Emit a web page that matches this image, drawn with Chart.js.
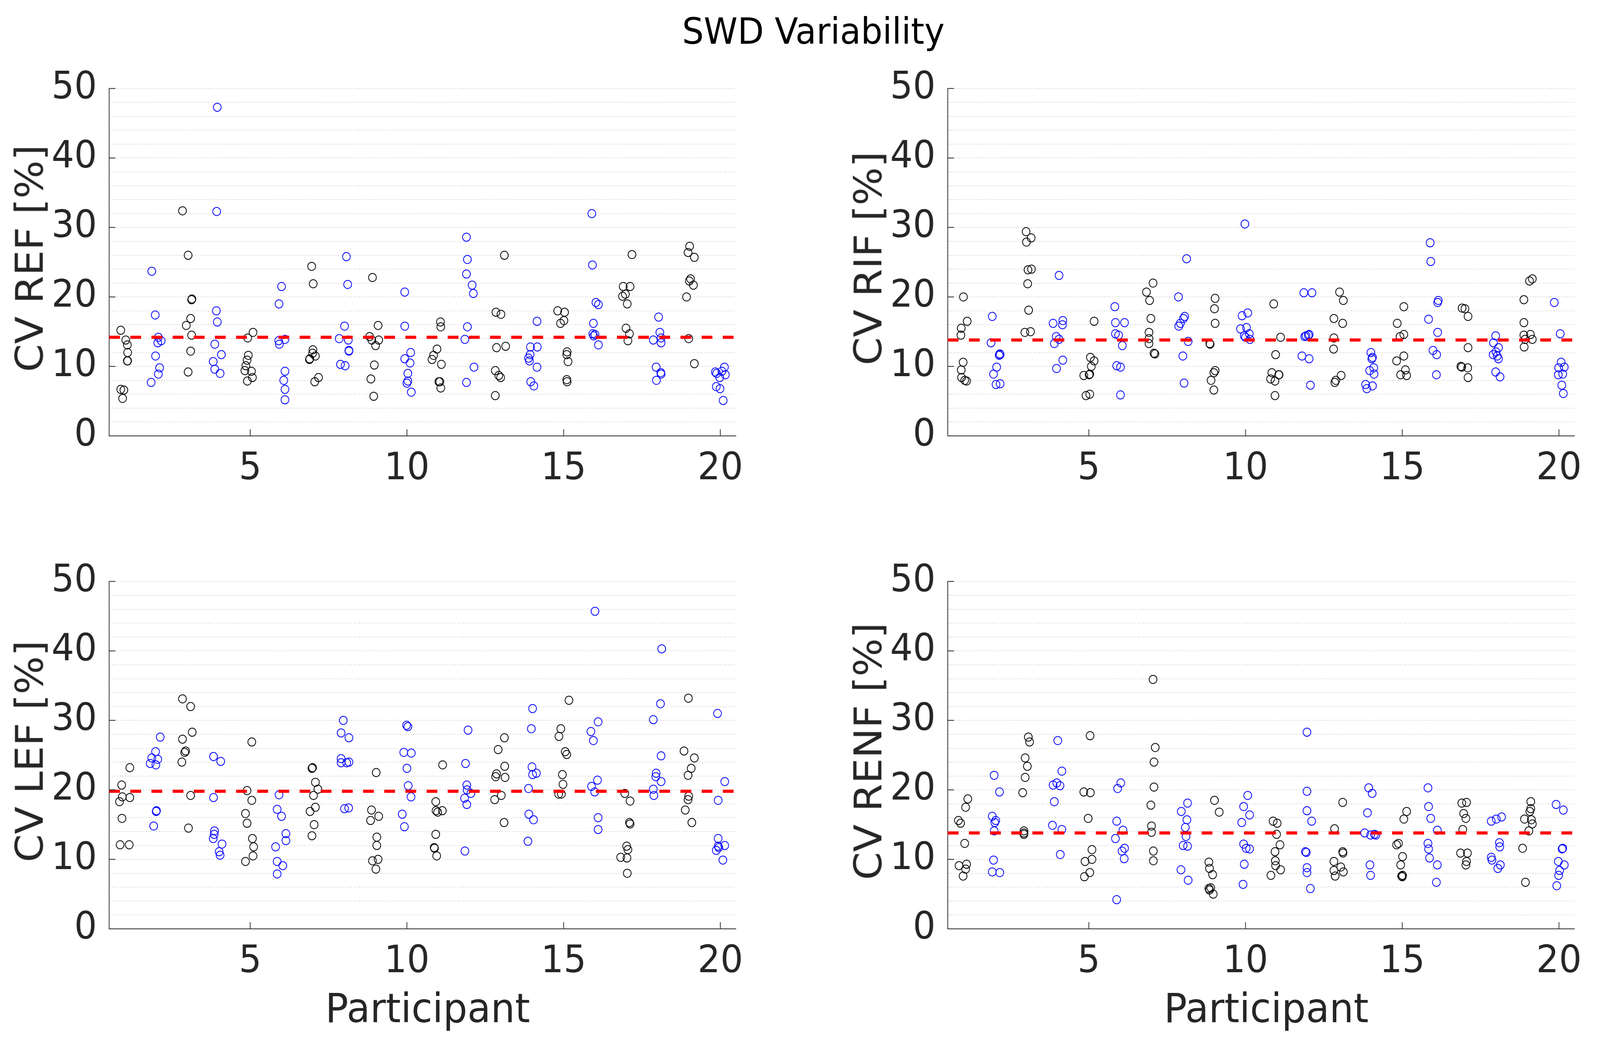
<!DOCTYPE html>
<html>
<head>
<meta charset="utf-8">
<script src="https://cdn.jsdelivr.net/npm/chart.js@4.4.1/dist/chart.umd.min.js"></script>
<style>
  html, body { margin: 0; padding: 0; background: #fff; overflow: hidden; }
  #stage { position: absolute; left: 0; top: 0; width: 4310px; height: 2660px; transform-origin: 0 0; font-family: 'DejaVu Sans', sans-serif; }
  canvas { position: absolute; }
  .txt { position: absolute; white-space: nowrap; line-height: 1; text-align: center; }
</style>
</head>
<body>
<div id="stage">
  <div id="title" class="txt">SWD Variability</div>
</div>

<script>
// tick labels / axis text
const xTicks = [5, 10, 15, 20];
const yTicks = [0, 10, 20, 30, 40, 50];
const yTitles = ['CV REF [%]', 'CV RIF [%]', 'CV LEF [%]', 'CV RENF [%]'];
const xTitle = 'Participant';

// red dashed reference line per panel
const meanCV = [14.2, 13.8, 19.8, 13.8];

// CV values per participant (1..20) and the horizontal jitter of each point
const refVals = [
  [15.2,13.8,13.1,12.0,10.8,10.8,6.7,6.6,5.4],
  [23.7,17.4,14.2,13.4,13.7,11.5,9.8,8.9,7.7],
  [32.4,26.0,19.6,19.7,16.9,15.9,14.5,12.2,9.2],
  [47.3,32.3,18.0,16.4,13.2,11.7,10.7,9.6,9.0],
  [14.9,14.1,11.6,10.9,10.1,9.4,9.3,8.4,7.9],
  [21.5,19.0,13.9,13.7,13.2,9.3,8.0,6.7,5.2],
  [24.4,21.9,12.4,11.9,11.5,11.1,11.0,8.4,7.8],
  [25.8,21.8,15.8,14.0,13.8,12.3,12.2,10.3,10.1],
  [22.8,15.9,14.3,13.8,13.8,13.0,10.2,8.2,5.7],
  [20.7,15.8,12.0,11.1,10.5,9.0,7.9,7.6,6.3],
  [16.4,15.7,12.5,11.6,11.0,10.3,7.8,7.8,6.9],
  [28.6,25.4,23.3,21.7,20.5,15.7,13.9,9.9,7.7],
  [26.0,17.8,17.5,12.9,12.7,9.4,8.7,8.4,5.8],
  [16.5,12.8,12.8,11.7,11.2,10.8,9.9,7.8,7.2],
  [18.0,17.8,16.6,16.2,12.1,11.7,10.7,8.1,7.8],
  [32.0,24.6,19.2,18.9,16.2,14.7,14.6,14.4,13.1],
  [26.1,21.5,21.5,20.4,20.1,19.0,15.5,14.7,13.7],
  [17.1,14.9,14.1,13.8,13.4,9.9,9.1,8.9,8.0],
  [27.3,26.4,25.7,22.6,22.3,21.7,20.0,14.0,10.4],
  [9.9,9.3,9.2,9.0,8.8,8.4,7.1,6.8,5.1]
];
const refJit = [
  [-.13,.03,.08,.09,.08,.09,-.13,-.03,-.07],
  [-.14,-.03,.07,.05,.16,-.02,.11,.07,-.16],
  [-.16,.02,.13,.14,.10,-.04,.13,.10,.02],
  [-.05,-.07,-.08,-.05,-.13,.08,-.18,-.13,.04],
  [.09,-.08,-.06,-.10,-.14,-.17,.04,.07,-.09],
  [.00,-.08,.11,-.09,-.07,.11,.07,.11,.11],
  [-.04,.01,.00,-.01,.08,-.10,-.11,.18,.06],
  [.07,.11,.01,-.16,.13,.15,.15,-.12,.03],
  [-.10,.08,-.19,-.12,.10,.00,-.04,-.15,-.06],
  [-.07,-.07,.12,-.07,.10,.03,.03,.00,.14],
  [.07,.08,-.04,-.15,-.20,.10,.02,.05,.08],
  [-.10,-.07,-.10,.08,.12,-.07,-.15,.14,-.10],
  [.11,-.16,.00,.15,-.14,-.18,-.07,-.01,-.18],
  [.15,-.06,.16,-.07,-.12,-.09,.15,-.05,.05],
  [-.19,.03,.01,-.10,.11,.10,.14,.10,.11],
  [-.10,-.08,.03,.11,-.05,-.07,.00,-.04,.11],
  [.18,-.10,.12,-.03,-.12,.03,-.01,.10,.05],
  [.03,.07,.11,-.14,.11,-.05,.10,.11,-.04],
  [.02,-.03,.17,.05,.01,.14,-.08,-.01,.17],
  [.13,.05,-.16,-.12,.16,-.02,-.13,-.01,.09]
];

const rifVals = [
  [20.0,16.5,15.5,14.5,10.6,9.5,8.4,8.0,7.9],
  [17.2,13.4,11.8,11.6,11.7,9.9,8.9,7.4,7.5],
  [29.4,28.5,27.9,23.9,24.0,21.9,18.1,14.9,15.0],
  [23.1,16.2,16.6,16.0,14.3,13.9,13.3,10.9,9.7],
  [16.5,11.3,10.8,10.0,8.9,8.7,8.8,5.8,6.0],
  [18.6,16.3,16.3,14.7,14.5,13.0,10.1,9.9,5.9],
  [22.0,20.7,19.5,16.9,14.9,14.0,13.3,11.9,11.8],
  [25.5,20.0,17.2,16.9,16.2,15.8,13.6,11.5,7.6],
  [19.8,18.3,16.2,13.3,13.2,9.4,9.1,8.0,6.6],
  [30.5,17.3,17.7,15.4,15.6,14.7,14.4,14.2,13.9],
  [19.0,14.2,11.7,9.1,8.8,8.8,8.2,7.9,5.8],
  [20.6,20.6,14.6,14.5,14.4,14.3,11.5,11.1,7.3],
  [20.7,19.5,16.9,16.2,14.1,12.5,8.7,8.0,7.7],
  [12.0,11.3,11.1,9.8,9.4,8.9,7.4,7.2,6.8],
  [18.6,16.2,14.6,14.3,11.5,10.8,9.5,8.8,8.7],
  [27.8,25.1,19.5,19.2,16.8,14.9,12.3,11.7,8.8],
  [18.4,18.3,17.2,12.7,10.0,9.9,9.8,8.4],
  [14.4,13.4,12.7,12.1,11.7,11.5,11.1,9.2,8.5],
  [22.6,22.3,19.6,16.3,14.5,14.6,13.9,13.9,12.8],
  [19.2,14.7,10.6,9.9,9.8,8.9,8.8,7.3,6.1]
];
const rifJit = [
  [.00,.12,-.07,-.08,-.01,-.07,-.06,.04,.10],
  [-.08,-.12,.16,.14,.17,.06,-.04,.04,.17],
  [.00,.16,.01,.06,.17,.05,.08,-.04,.14],
  [.05,-.14,.17,.16,-.04,.05,-.10,.17,-.03],
  [.17,.05,.17,.08,.03,-.16,.01,-.09,.03],
  [-.17,-.15,.14,-.15,-.05,.07,-.11,.01,.01],
  [.05,-.16,-.06,-.02,-.08,-.08,-.08,.08,.11],
  [.12,-.14,.06,.02,-.08,-.13,.17,.00,.04],
  [.03,.01,.03,-.14,-.13,.03,-.01,-.10,-.01],
  [-.02,-.11,.07,-.16,.03,.12,-.04,.00,.14],
  [-.10,.12,-.04,-.16,.06,.07,-.20,-.06,-.06],
  [-.14,.12,.03,.00,-.07,-.11,-.20,.03,.07],
  [.00,.12,-.18,.10,-.18,-.19,.05,-.12,-.15],
  [.00,.05,.03,.09,-.04,.10,-.17,.05,-.13],
  [.05,-.16,.05,-.07,.05,-.18,.10,-.05,.14],
  [-.11,-.09,.15,.13,-.16,.13,-.02,.10,.09],
  [-.09,.00,.10,.10,-.13,-.10,.09,.10],
  [-.02,-.09,.07,-.01,-.10,.03,.07,-.02,.12],
  [.15,.06,-.12,-.12,-.12,.09,-.08,.15,-.11],
  [-.15,.04,.07,.17,-.01,.12,-.02,.09,.14]
];

const lefVals = [
  [23.2,20.7,19.0,18.9,18.3,15.9,12.1,12.1],
  [27.6,25.5,24.6,24.4,23.8,23.6,17.0,16.9,14.8],
  [33.1,32.0,28.3,27.3,25.6,25.4,24.0,19.2,14.5],
  [24.8,24.1,18.9,14.1,13.6,13.0,12.2,11.1,10.6],
  [26.9,19.9,18.5,16.6,15.2,13.0,11.8,10.5,9.7],
  [19.3,17.2,16.2,13.7,12.7,11.8,9.7,9.1,7.9],
  [23.1,23.2,21.1,20.1,19.2,17.5,16.9,15.0,13.4],
  [30.0,28.2,27.5,24.5,23.9,23.9,24.0,17.3,17.4],
  [22.5,17.1,15.6,16.2,13.2,12.0,9.8,10.0,8.6],
  [29.3,29.1,25.4,25.3,23.1,20.6,19.0,16.5,14.7],
  [23.6,18.3,17.0,16.8,17.0,13.6,11.7,11.6,10.5],
  [28.6,23.8,20.7,20.0,19.5,18.8,17.9,11.2],
  [27.5,25.8,23.4,22.3,21.9,21.8,19.2,18.6,15.3],
  [31.7,28.8,23.3,22.2,22.4,20.2,16.5,15.7,12.6],
  [32.9,28.8,27.7,25.5,25.1,22.2,20.8,19.4,19.4],
  [45.7,29.8,28.4,27.1,21.4,20.5,19.7,16.0,14.3],
  [19.5,18.4,15.3,15.1,11.9,11.4,10.3,10.2,8.0],
  [40.3,32.4,30.1,24.9,22.4,21.9,21.2,20.1,19.2],
  [33.2,25.6,24.6,23.1,22.1,19.1,18.6,17.1,15.3],
  [31.0,21.2,18.5,13.0,11.9,12.0,11.7,11.3,9.9]
];
const lefJit = [
  [.16,-.10,-.08,.16,-.17,-.09,-.15,.14],
  [.13,-.02,-.14,.05,-.19,-.01,.01,.00,-.08],
  [-.16,.10,.15,-.16,-.06,-.09,-.18,.10,.03],
  [-.17,.06,-.17,-.14,-.15,-.18,.10,.01,.04],
  [.05,-.10,.05,-.15,-.10,.07,.11,.09,-.15],
  [-.08,-.14,.00,.14,.14,-.19,-.14,.04,-.14],
  [-.03,-.01,.08,.16,.02,.08,-.09,.04,-.03],
  [-.03,-.10,.15,-.10,-.10,.08,.15,.01,.14],
  [.02,-.13,-.16,.10,.04,.04,-.10,.08,.01],
  [-.01,.03,-.10,.14,.00,.04,.13,-.15,-.08],
  [.14,-.08,-.07,-.02,.13,-.08,-.13,-.12,-.05],
  [-.05,-.13,-.09,-.08,.04,-.16,-.09,-.15],
  [.11,-.09,.12,-.14,-.17,.13,.01,-.20,.10],
  [.01,-.03,-.01,.01,.13,-.12,-.11,.04,-.14],
  [.17,-.09,-.15,.05,.10,-.04,-.02,-.16,-.07],
  [.00,.10,-.13,-.05,.08,-.11,-.01,.10,.10],
  [-.05,.12,.10,.12,.01,.05,-.18,.02,.03],
  [.13,.09,-.14,.11,-.05,-.06,.11,-.14,-.12],
  [-.02,-.16,.17,.07,-.03,-.01,-.03,-.12,.09],
  [-.09,.14,-.07,-.07,-.07,.14,-.05,-.13,.08]
];

const renfVals = [
  [18.7,17.5,15.6,15.2,12.3,9.1,9.3,8.6,7.6],
  [22.1,19.7,16.2,15.6,15.3,14.1,9.9,8.2,8.1],
  [27.6,26.9,24.6,23.4,21.8,19.6,14.1,13.8,13.6],
  [27.1,22.7,21.0,20.7,20.6,18.3,14.9,14.3,10.7],
  [27.8,19.7,19.6,15.9,11.4,9.7,10.0,8.1,7.5],
  [21.0,20.2,15.5,14.2,13.0,11.6,11.2,10.1,4.2],
  [35.9,26.1,24.0,20.4,17.8,14.8,13.9,11.2,9.8],
  [18.1,16.9,15.7,14.6,13.3,12.0,11.9,8.5,7.0],
  [18.5,16.8,9.6,8.7,7.8,5.8,5.9,5.6,5.0],
  [19.2,17.6,16.4,15.3,12.2,11.6,11.5,9.3,6.4],
  [15.5,15.2,13.6,12.1,11.1,9.8,9.1,8.5,7.7],
  [28.3,19.8,17.0,15.5,11.1,11.0,8.8,8.1,5.8],
  [18.2,14.4,11.1,10.9,9.7,8.9,8.4,8.2,7.6],
  [20.3,19.5,16.7,13.8,13.5,13.6,13.5,9.2,7.7],
  [16.9,15.8,12.3,12.1,10.4,9.2,7.6,7.5,7.7],
  [20.3,17.6,15.9,14.2,12.3,11.5,10.2,9.2,6.7],
  [18.1,18.2,16.6,15.9,14.3,10.9,10.9,9.7,9.2],
  [15.5,15.8,16.1,12.4,11.8,10.3,9.9,9.2,8.7],
  [18.3,17.3,16.9,15.8,15.7,15.1,14.1,11.6,6.7],
  [17.9,17.1,11.6,11.5,9.7,9.2,8.4,7.7,6.2]
];
const renfJit = [
  [.14,.07,-.16,-.09,.04,-.14,.10,.07,-.01],
  [-.02,.15,-.08,.03,.00,-.02,-.04,-.08,.16],
  [.07,.11,-.03,.04,-.03,-.11,-.07,-.07,-.07],
  [.01,.14,-.02,-.14,.08,-.10,-.16,.14,.09],
  [.04,-.16,.05,-.02,.10,-.12,.10,.03,-.14],
  [.02,-.08,-.11,.09,-.15,.14,.06,.13,-.11],
  [.05,.12,.08,.08,-.02,.00,.00,.06,.06],
  [.15,-.05,.13,.08,.10,.01,.15,-.06,.17],
  [.01,.16,-.17,-.15,-.05,-.17,-.11,-.15,-.03],
  [.07,-.06,.13,-.12,-.06,.02,.13,-.04,-.08],
  [-.12,.01,-.01,.10,-.06,-.05,-.04,.12,-.19],
  [-.04,-.04,-.04,.11,-.09,-.06,-.04,-.04,.07],
  [.10,-.16,.10,.11,-.18,.04,-.18,.12,-.14],
  [-.07,.04,-.11,-.20,-.01,.11,.16,-.03,-.01],
  [.14,.05,-.12,-.18,.01,-.05,-.02,.00,.01],
  [-.18,-.16,-.09,.12,-.18,-.16,-.13,.12,.09],
  [-.10,.05,-.04,.03,-.07,-.14,.08,.05,.03],
  [-.16,.00,.17,.10,.11,-.16,-.14,.13,.05],
  [.10,.10,.07,-.10,.12,.15,.04,-.16,-.07],
  [-.09,.14,.12,.10,-.02,.17,.02,-.01,-.07]
];

const panelVals = [refVals, rifVals, lefVals, renfVals];
const panelJit = [refJit, rifJit, lefJit, renfJit];

// layout (pixels, in the 4310 x 2660 figure)
const FIG_W = 4310, FIG_H = 2660;
const PANEL_POS = [
  { left: 294, top: 206 }, { left: 2553, top: 206 },
  { left: 294, top: 1468 }, { left: 2553, top: 1468 }
];
const PLOT_W = 1716, PLOT_H = 910;
const Y_AXIS_W = 260, PAD_TOP = 70, PAD_RIGHT = 20, X_AXIS_H = 170;
const AXIS_COLOR = '#262626';
const FONT = 'DejaVu Sans';
const TICK_FONT = 96, LABEL_FONT = 103, TITLE_FONT = 92;

Chart.defaults.font.family = FONT;

// the window may be smaller than the figure: stretch the figure to fill it
const stage = document.getElementById('stage');
const sx = window.innerWidth / FIG_W, sy = window.innerHeight / FIG_H;
if (Math.abs(sx - 1) > 0.002 || Math.abs(sy - 1) > 0.002) {
  stage.style.transform = 'scale(' + sx + ',' + sy + ')';
}

const inwardTicks = {
  id: 'inwardTicks',
  afterDraw(chart) {
    const { ctx, chartArea: a, scales: { x, y } } = chart;
    ctx.save();
    ctx.strokeStyle = AXIS_COLOR;
    ctx.lineWidth = 2;
    ctx.beginPath();
    yTicks.forEach(v => {
      const py = y.getPixelForValue(v);
      ctx.moveTo(a.left, py);
      ctx.lineTo(a.left + 17, py);
    });
    xTicks.forEach(v => {
      const px = x.getPixelForValue(v);
      ctx.moveTo(px, a.bottom);
      ctx.lineTo(px, a.bottom - 17);
    });
    ctx.stroke();
    ctx.restore();
  }
};

function toPoints(vals, jit, odd) {
  const pts = [];
  vals.forEach((row, i) => {
    const p = i + 1;
    if ((p % 2 === 1) !== odd) return;
    row.forEach((v, k) => pts.push({ x: p + jit[i][k], y: v }));
  });
  return pts;
}

function addText(text, style) {
  const d = document.createElement('div');
  d.className = 'txt';
  d.textContent = text;
  Object.assign(d.style, style);
  stage.appendChild(d);
  return d;
}

function buildPanel(idx) {
  const pos = PANEL_POS[idx];
  const cv = document.createElement('canvas');
  const w = Y_AXIS_W + PLOT_W + PAD_RIGHT;
  const h = PAD_TOP + PLOT_H + X_AXIS_H;
  cv.style.left = (pos.left - Y_AXIS_W) + 'px';
  cv.style.top = (pos.top - PAD_TOP) + 'px';
  cv.style.width = w + 'px';
  cv.style.height = h + 'px';
  cv.width = w;
  cv.height = h;
  stage.appendChild(cv);

  const vals = panelVals[idx], jit = panelJit[idx];
  const circle = color => ({
    pointStyle: 'circle',
    pointRadius: 10.5,
    pointBorderWidth: 2,
    pointBorderColor: color,
    pointBackgroundColor: 'rgba(0,0,0,0)',
    borderColor: color,
    showLine: false
  });

  new Chart(cv, {
    type: 'scatter',
    plugins: [inwardTicks],
    data: {
      datasets: [
        {
          type: 'line',
          data: [{ x: 0.5, y: meanCV[idx] }, { x: 20.5, y: meanCV[idx] }],
          borderColor: '#ff0000',
          borderWidth: 8,
          borderDash: [29, 28],
          pointRadius: 0,
          fill: false
        },
        Object.assign({ data: toPoints(vals, jit, true) }, circle('#000000')),
        Object.assign({ data: toPoints(vals, jit, false) }, circle('#0000ff'))
      ]
    },
    options: {
      responsive: false,
      animation: false,
      events: [],
      devicePixelRatio: 1,
      layout: { padding: { top: PAD_TOP, right: PAD_RIGHT, left: 0, bottom: 0 } },
      plugins: { legend: { display: false }, tooltip: { enabled: false } },
      scales: {
        x: {
          type: 'linear',
          min: 0.5,
          max: 20.5,
          afterBuildTicks: s => { s.ticks = xTicks.map(v => ({ value: v })); },
          afterFit: s => { s.height = X_AXIS_H; },
          ticks: {
            autoSkip: false,
            maxRotation: 0,
            padding: 28,
            color: AXIS_COLOR,
            font: { size: TICK_FONT, family: FONT, lineHeight: 1.2 },
            callback: v => String(v)
          },
          grid: { display: false, drawTicks: false },
          border: { display: true, color: AXIS_COLOR, width: 2 }
        },
        y: {
          min: 0,
          max: 50,
          afterFit: s => { s.width = Y_AXIS_W; },
          ticks: {
            stepSize: 2,
            autoSkip: false,
            padding: 33,
            color: AXIS_COLOR,
            font: { size: TICK_FONT, family: FONT, lineHeight: 1.2 },
            callback: v => (yTicks.includes(v) ? String(v) : '')
          },
          grid: { drawTicks: false, color: '#c4c4c4', lineWidth: 2 },
          border: { display: true, color: AXIS_COLOR, width: 2, dash: [2, 5] }
        }
      }
    }
  });

  // y axis title (rotated)
  const cx = pos.left - 214;
  const cy = pos.top + PLOT_H / 2;
  addText(yTitles[idx], {
    left: (cx - 700) + 'px', top: (cy - LABEL_FONT / 2) + 'px',
    width: '1400px', height: LABEL_FONT + 'px',
    fontSize: LABEL_FONT + 'px', color: AXIS_COLOR,
    transform: 'rotate(-90deg)'
  });

  // x axis title only on bottom row
  if (idx >= 2) {
    const mx = pos.left + PLOT_W / 2;
    addText(xTitle, {
      left: (mx - 1000) + 'px', top: '2530px', width: '2000px',
      fontSize: LABEL_FONT + 'px', color: AXIS_COLOR
    });
  }
}

const title = document.getElementById('title');
Object.assign(title.style, {
  left: (2191 - 1000) + 'px', top: '35px', width: '2000px',
  fontSize: TITLE_FONT + 'px', color: '#000'
});

[0, 1, 2, 3].forEach(buildPanel);
</script>
</body>
</html>
